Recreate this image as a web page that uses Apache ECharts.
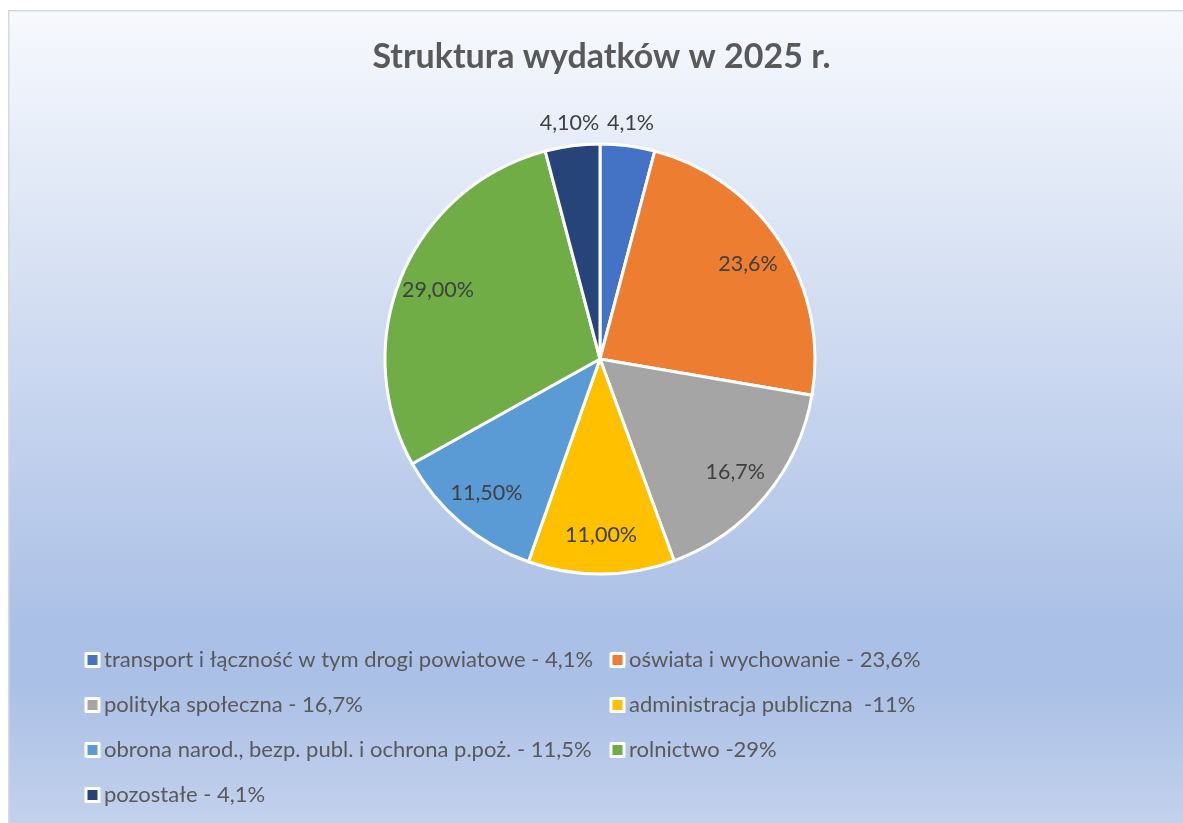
<!DOCTYPE html>
<html>
<head>
<meta charset="utf-8">
<title>Struktura wydatków w 2025 r.</title>
<script src="https://cdn.jsdelivr.net/npm/echarts@6/dist/echarts.min.js"></script>
<style>
  html, body { margin: 0; padding: 0; background: #fff; overflow: hidden; }
  #main { position: absolute; left: 8px; top: 10px; width: 1187px; height: 830px; }
</style>
</head>
<body>
<div id="main"></div>
<script>
// dane z wykresu
var categories = [
    'transport i łączność w tym drogi powiatowe - 4,1%',
    'oświata i wychowanie - 23,6%',
    'polityka społeczna - 16,7%',
    'administracja publiczna  -11%',
    'obrona narod., bezp. publ. i ochrona p.poż. - 11,5%',
    'rolnictwo -29%',
    'pozostałe - 4,1%'
];
var values = [4.1, 23.6, 16.7, 11, 11.5, 29, 4.1];
var labelTexts = ['4,1%', '23,6%', '16,7%', '11,00%', '11,50%', '29,00%', '4,10%'];
var outsideLabel = [true, false, false, false, false, false, true];
var colors = ['#4472C4', '#ED7D31', '#A5A5A5', '#FFC000', '#5B9BD5', '#70AD47', '#264478'];

// legenda w dwóch kolumnach
var legendLeft = [categories[0], categories[2], categories[4], categories[6]];
var legendRight = [categories[1], categories[3], categories[5]];

var FONT = 'Lato';
var center = [592, 349];

var pieData = categories.map(function (name, i) {
    return { name: name, value: values[i], itemStyle: { color: colors[i] } };
});

// warstwy z samymi etykietami (przezroczyste)
function labelData(outside) {
    return categories.map(function (name, i) {
        return {
            name: name,
            value: values[i],
            label: { show: outsideLabel[i] === outside }
        };
    });
}

var labelStyle = {
    position: 'inside',
    fontFamily: FONT,
    fontSize: 21.5,
    color: '#404040',
    formatter: function (p) { return labelTexts[p.dataIndex]; }
};

var legendCommon = {
    orient: 'vertical',
    padding: 0,
    itemWidth: 13,
    itemHeight: 13,
    itemGap: 21,
    icon: 'rect',
    selectedMode: false,
    itemStyle: { borderColor: '#fff', borderWidth: 3 },
    textStyle: { fontFamily: FONT, fontSize: 22, color: '#595959', lineHeight: 24 }
};

var myChart = echarts.init(document.getElementById('main'));
var option = {
    backgroundColor: {
        type: 'linear', x: 0, y: 0, x2: 0, y2: 1,
        colorStops: [
            { offset: 0, color: '#f7f9fd' },
            { offset: 0.74, color: '#abc0e6' },
            { offset: 0.81, color: '#abc0e6' },
            { offset: 1, color: '#c5d3ed' }
        ]
    },
    animation: false,
    graphic: [{
        type: 'rect',
        z: 100,
        silent: true,
        shape: { x: 0.75, y: 0.75, width: 3000, height: 3000 },
        style: { fill: 'none', stroke: '#d9d9d9', lineWidth: 1.5 }
    }],
    title: {
        text: 'Struktura wydatków w 2025 r.',
        left: 'center',
        top: 25,
        textStyle: { fontFamily: FONT, fontSize: 34, fontWeight: 'bold', color: '#595959' }
    },
    legend: [
        Object.assign({ left: 76.5, top: 638, data: legendLeft }, legendCommon),
        Object.assign({ left: 601.5, top: 638, data: legendRight }, legendCommon)
    ],
    series: [
        {
            type: 'pie',
            center: center,
            radius: 215,
            startAngle: 90,
            clockwise: true,
            label: { show: false },
            labelLine: { show: false },
            itemStyle: { borderColor: '#fff', borderWidth: 3 },
            emphasis: { disabled: true },
            data: pieData
        },
        {
            // etykiety wewnątrz wycinków
            type: 'pie',
            center: center,
            radius: [131, 215],
            startAngle: 90,
            silent: true,
            legendHoverLink: false,
            itemStyle: { color: 'rgba(0,0,0,0)', borderWidth: 0 },
            label: labelStyle,
            labelLine: { show: false },
            emphasis: { disabled: true },
            data: labelData(false)
        },
        {
            // etykiety nad małymi wycinkami
            type: 'pie',
            center: center,
            radius: [215, 255],
            startAngle: 90,
            silent: true,
            legendHoverLink: false,
            itemStyle: { color: 'rgba(0,0,0,0)', borderWidth: 0 },
            label: labelStyle,
            labelLine: { show: false },
            emphasis: { disabled: true },
            data: labelData(true)
        }
    ]
};
myChart.setOption(option);
</script>
</body>
</html>
